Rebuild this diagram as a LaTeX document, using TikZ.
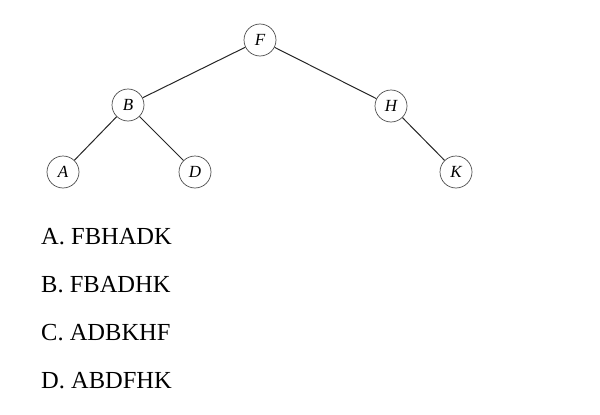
\documentclass[tikz,border=0pt]{standalone}
\usepackage{fontspec}
\setmainfont{Liberation Serif}
\begin{document}
\begin{tikzpicture}[x=1pt,y=-1pt,
  tnode/.style={circle,draw=black!70,line width=0.7pt,minimum size=32pt,inner sep=0pt,font=\fontsize{17}{17}\selectfont\itshape},
  edge/.style={draw=black!85,line width=1pt},
  opt/.style={anchor=base west,inner sep=0pt,font=\fontsize{24.5}{24.5}\selectfont}]
\useasboundingbox (0,0) rectangle (600,415);
\node[tnode] (F) at (260,40) {F};
\node[tnode] (B) at (128,105) {B};
\node[tnode] (H) at (391,106) {H};
\node[tnode] (A) at (63,172) {A};
\node[tnode] (D) at (195,172) {D};
\node[tnode] (K) at (456,172) {K};
\draw[edge] (F) -- (B);
\draw[edge] (F) -- (H);
\draw[edge] (B) -- (A);
\draw[edge] (B) -- (D);
\draw[edge] (H) -- (K);
\node[opt] (o1) at (41,244) {A. FBHADK};
\node[opt] (o2) at (41,292) {B. FBADHK};
\node[opt] (o3) at (41,340) {C. ADBKHF};
\node[opt] (o4) at (41,388) {D. ABDFHK};
\end{tikzpicture}
\end{document}
